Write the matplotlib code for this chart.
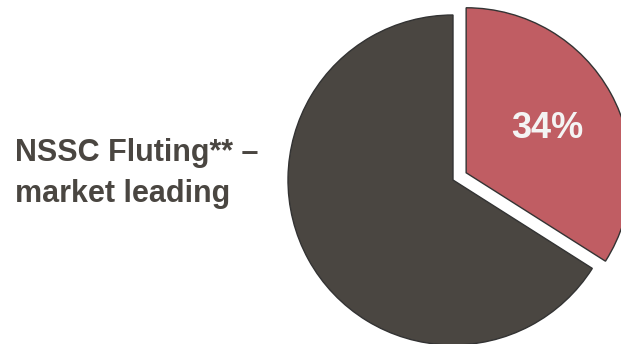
import matplotlib
matplotlib.use('Agg')
import matplotlib.pyplot as plt

####################################################################################

FIGURE_XSIZE = 6.21
FIGURE_YSIZE = 3.44
DPI = 100

SLICE_COLORS = ['#C05D63', '#4A4641']
EDGE_RGB = '#333333'
TEXT_RGB = '#4A4641'
PCT_RGB = '#F4F4F4'

plt.rcParams['font.family'] = ['Liberation Sans', 'DejaVu Sans']

####################################################################################

segments = ['NSSC Fluting', 'Other']
shares = [34, 66]
pct_labels = ['34%', '']
side_label = 'NSSC Fluting** –\nmarket leading'

####################################################################################

figure = plt.figure(figsize=(FIGURE_XSIZE, FIGURE_YSIZE), dpi=DPI, facecolor='white')
axes = figure.add_axes([0, 0, 1, 1])
axes.set_aspect('equal')
axes.axis('off')

# pie drawn in pixel-like units, top of figure is y = 344
wedges, texts = axes.pie(shares, colors=SLICE_COLORS, startangle=90, counterclock=False,
                         explode=[15, 0], center=(453, 164), radius=165,
                         wedgeprops=dict(edgecolor=EDGE_RGB, linewidth=1.0),
                         labels=pct_labels, labeldistance=0.56,
                         textprops=dict(color=PCT_RGB, fontsize=26, fontweight='bold'))
for t in texts:
    t.set_ha('center')
    t.set_va('center')

axes.set_xlim(0, 621)
axes.set_ylim(0, 344)

# multiline baseline -> last line's baseline
axes.text(15, 344 - 202, side_label, ha='left', va='baseline', fontsize=22,
          fontweight='bold', color=TEXT_RGB, linespacing=1.5)

plt.savefig('out.png', dpi=DPI, facecolor='white')
